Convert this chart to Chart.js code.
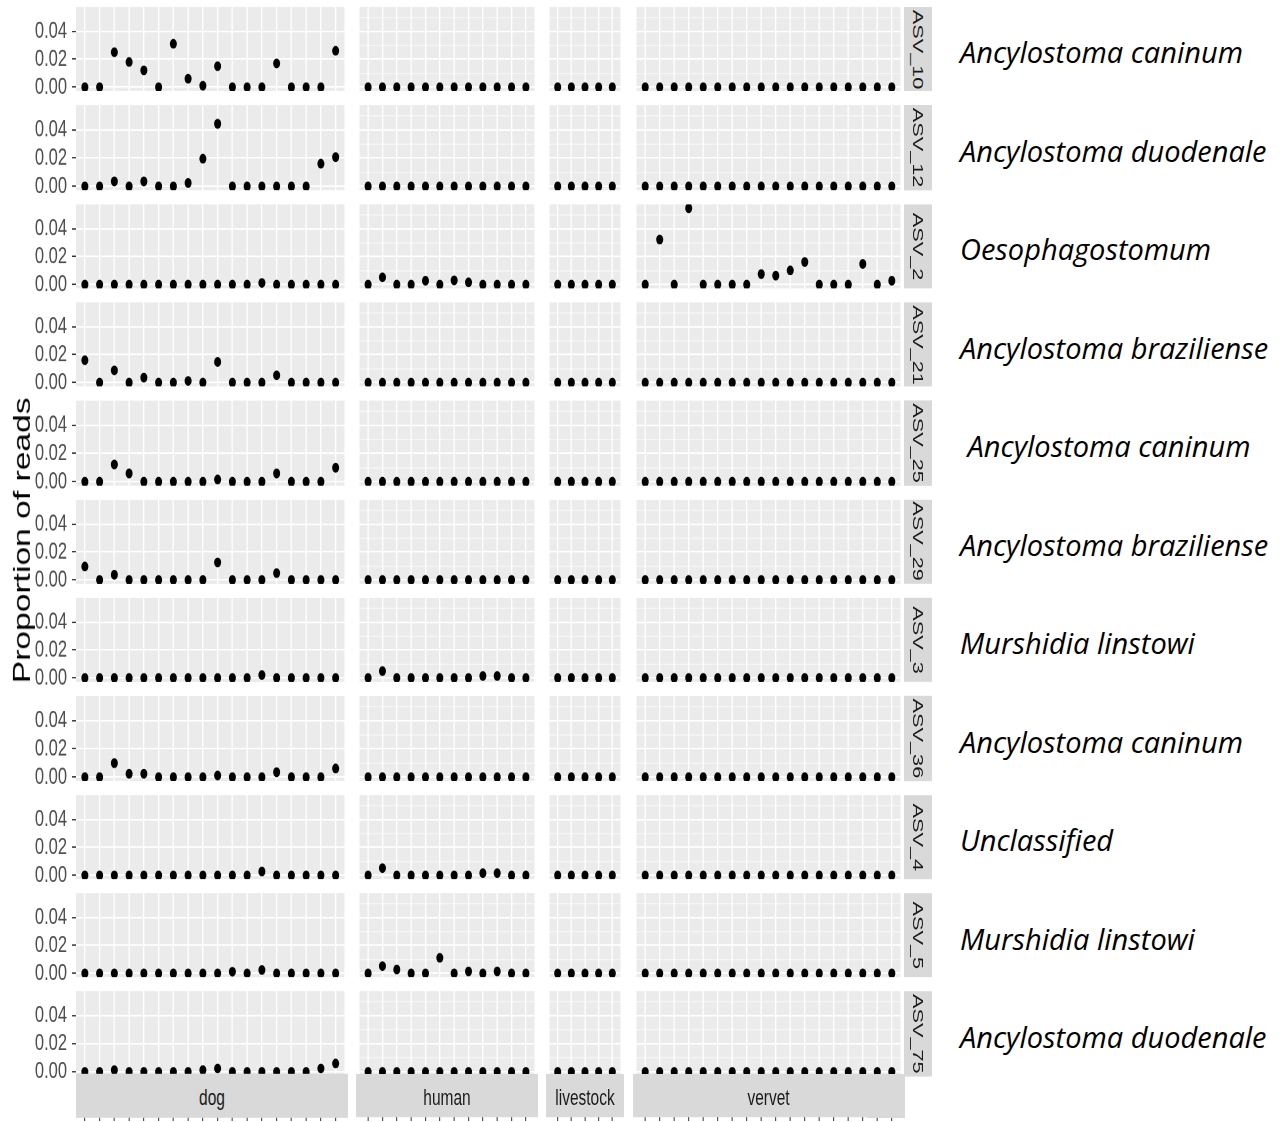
<!DOCTYPE html>
<html>
<head>
<meta charset="utf-8">
<script src="https://cdn.jsdelivr.net/npm/chart.js@4.4.1/dist/chart.umd.min.js"></script>
<style>
  body { margin: 0; background: #fff; width: 1284px; height: 1122px; overflow: hidden; }
  #page { position: relative; width: 1284px; height: 1122px; }
  /* the ggplot part of the figure is stretched vertically in the original */
  #plot { position: absolute; left: 0; top: 0; width: 940px; height: 802px; transform: scaleY(1.4); transform-origin: 0 0; }
  #plot canvas { position: absolute; }
  .strip { position: absolute; background: #d9d9d9; color: #1a1a1a; font: 15.5px 'Liberation Sans', Arial, sans-serif;
           display: flex; align-items: center; justify-content: center; z-index: 2; }
  .strip.v { writing-mode: vertical-rl; }
  .strip.h { padding-top: 3px; box-sizing: border-box; }
  #ytitle { position: absolute; left: 8px; font: 24px 'Liberation Sans', Arial, sans-serif; color: #000;
            writing-mode: vertical-rl; transform: translateY(-50%) rotate(180deg); white-space: nowrap; }
  .species { position: absolute; left: 960px; font: italic 29px 'Open Sans', sans-serif; color: #000;
             white-space: pre; transform: translateY(-50%); }
</style>
</head>
<body>
<div id="page">
  <div id="plot"></div>
</div>
<script>
// facets
const asvs = ['ASV_10', 'ASV_12', 'ASV_2', 'ASV_21', 'ASV_25', 'ASV_29', 'ASV_3', 'ASV_36', 'ASV_4', 'ASV_5', 'ASV_75'];
const hosts = ['dog', 'human', 'livestock', 'vervet'];
const species = ['Ancylostoma caninum', 'Ancylostoma duodenale', 'Oesophagostomum', 'Ancylostoma braziliense',
  ' Ancylostoma caninum', 'Ancylostoma braziliense', 'Murshidia linstowi', 'Ancylostoma caninum',
  'Unclassified', 'Murshidia linstowi', 'Ancylostoma duodenale'];
const yTickLabels = ['0.00', '0.02', '0.04'];

// proportion of reads, one row per ASV
const dog = [
  [0, 0, 0.025, 0.018, 0.012, 0, 0.031, 0.006, 0.001, 0.015, 0, 0, 0, 0.017, 0, 0, 0, 0.026],
  [0, 0, 0.0035, 0, 0.0035, 0, 0, 0.0024, 0.0195, 0.0442, 0, 0, 0, 0, 0, 0, 0.016, 0.0207],
  [0, 0, 0, 0, 0, 0, 0, 0, 0, 0, 0, 0, 0.0012, 0, 0, 0, 0, 0],
  [0.016, 0, 0.0087, 0, 0.0035, 0, 0, 0.0012, 0, 0.0148, 0, 0, 0, 0.0052, 0, 0, 0, 0],
  [0, 0, 0.0122, 0.0059, 0, 0, 0, 0, 0, 0.0016, 0, 0, 0, 0.0059, 0, 0, 0, 0.0099],
  [0.0096, 0, 0.0038, 0, 0, 0, 0, 0, 0, 0.0125, 0, 0, 0, 0.0049, 0, 0, 0, 0],
  [0, 0, 0, 0, 0, 0, 0, 0, 0, 0, 0, 0, 0.0021, 0, 0, 0, 0, 0],
  [0, 0, 0.0099, 0.0024, 0.0024, 0, 0, 0, 0, 0.0012, 0, 0, 0, 0.0035, 0, 0, 0, 0.0061],
  [0, 0, 0, 0, 0, 0, 0, 0, 0, 0, 0, 0, 0.0028, 0, 0, 0, 0, 0],
  [0, 0, 0, 0, 0, 0, 0, 0, 0, 0, 0.0012, 0, 0.0024, 0, 0, 0, 0, 0],
  [0, 0, 0.0012, 0, 0, 0, 0, 0, 0.0012, 0.0024, 0, 0, 0, 0, 0, 0, 0.0024, 0.0059]
];
const human = [
  [0, 0, 0, 0, 0, 0, 0, 0, 0, 0, 0, 0],
  [0, 0, 0, 0, 0, 0, 0, 0, 0, 0, 0, 0],
  [0, 0.0052, 0, 0, 0.0028, 0, 0.003, 0.0016, 0, 0, 0, 0],
  [0, 0, 0, 0, 0, 0, 0, 0, 0, 0, 0, 0],
  [0, 0, 0, 0, 0, 0, 0, 0, 0, 0, 0, 0],
  [0, 0, 0, 0, 0, 0, 0, 0, 0, 0, 0, 0],
  [0, 0.0049, 0, 0, 0, 0, 0, 0, 0.0014, 0.0014, 0, 0],
  [0, 0, 0, 0, 0, 0, 0, 0, 0, 0, 0, 0],
  [0, 0.0052, 0, 0, 0, 0, 0, 0, 0.0016, 0.0016, 0, 0],
  [0, 0.0052, 0.0028, 0, 0, 0.0111, 0, 0.0014, 0, 0.0014, 0, 0],
  [0, 0, 0, 0, 0, 0, 0, 0, 0, 0, 0, 0]
];
const livestock = [
  [0, 0, 0, 0, 0], [0, 0, 0, 0, 0], [0, 0, 0, 0, 0], [0, 0, 0, 0, 0],
  [0, 0, 0, 0, 0], [0, 0, 0, 0, 0], [0, 0, 0, 0, 0], [0, 0, 0, 0, 0],
  [0, 0, 0, 0, 0], [0, 0, 0, 0, 0], [0, 0, 0, 0, 0]
];
const vervet = [
  [0, 0, 0, 0, 0, 0, 0, 0, 0, 0, 0, 0, 0, 0, 0, 0, 0, 0],
  [0, 0, 0, 0, 0, 0, 0, 0, 0, 0, 0, 0, 0, 0, 0, 0, 0, 0],
  [0, 0.0322, 0, 0.0546, 0, 0, 0, 0, 0.0075, 0.0064, 0.0101, 0.0162, 0, 0, 0, 0.0148, 0, 0.0028],
  [0, 0, 0, 0, 0, 0, 0, 0, 0, 0, 0, 0, 0, 0, 0, 0, 0, 0],
  [0, 0, 0, 0, 0, 0, 0, 0, 0, 0, 0, 0, 0, 0, 0, 0, 0, 0],
  [0, 0, 0, 0, 0, 0, 0, 0, 0, 0, 0, 0, 0, 0, 0, 0, 0, 0],
  [0, 0, 0, 0, 0, 0, 0, 0, 0, 0, 0, 0, 0, 0, 0, 0, 0, 0],
  [0, 0, 0, 0, 0, 0, 0, 0, 0, 0, 0, 0, 0, 0, 0, 0, 0, 0],
  [0, 0, 0, 0, 0, 0, 0, 0, 0, 0, 0, 0, 0, 0, 0, 0, 0, 0],
  [0, 0, 0, 0, 0, 0, 0, 0, 0, 0, 0, 0, 0, 0, 0, 0, 0, 0],
  [0, 0, 0, 0, 0, 0, 0, 0, 0, 0, 0, 0, 0, 0, 0, 0, 0, 0]
];
const groups = [dog, human, livestock, vervet];

// layout (page pixels; vertical values get divided by S inside #plot)
const S = 1.4;
const colLeft = [76, 356, 546, 633];
const colRight = [348, 538, 624, 904];
const rowTop0 = 6.9, rowPitch = 98.48, panelH = 84.6;
const pad = 8;

// ggplot-like expansion of the shared y range
const allVals = groups.flat(2);
const yMaxData = Math.max(...allVals);
const yMin = -0.05 * yMaxData, yMax = yMaxData * 1.05;

const plot = document.getElementById('plot');
const isMajor = v => Math.round(v * 100) % 2 === 0;

const panelBg = {
  id: 'panelBg',
  beforeDraw(chart) {
    const a = chart.chartArea, ctx = chart.ctx;
    ctx.save();
    ctx.fillStyle = '#ebebeb';
    ctx.fillRect(a.left, a.top, a.right - a.left, a.bottom - a.top);
    ctx.restore();
  }
};

const lastRow = asvs.length - 1;
const bottomOuter = rowTop0 + lastRow * rowPitch + panelH;
const axisH = (1122 - bottomOuter) / S;

asvs.forEach((asv, r) => {
  const top = (rowTop0 + r * rowPitch) / S;
  const h = panelH / S;
  const last = r === lastRow;

  hosts.forEach((host, c) => {
    const vals = groups[c][r];
    const n = vals.length;
    const left = c === 0 ? 0 : colLeft[c];
    const w = colRight[c] - left;
    const ch = h + pad + (last ? axisH : pad);

    const cv = document.createElement('canvas');
    cv.width = w; cv.height = ch;
    cv.style.left = left + 'px';
    cv.style.top = (top - pad) + 'px';
    cv.style.width = w + 'px';
    cv.style.height = ch + 'px';
    plot.appendChild(cv);

    new Chart(cv, {
      type: 'scatter',
      data: {
        datasets: [{
          data: vals.map((v, i) => ({ x: i, y: v })),
          backgroundColor: '#000',
          borderColor: '#000',
          borderWidth: 0,
          pointRadius: 3.5,
          pointHoverRadius: 3.5
        }]
      },
      options: {
        responsive: false,
        animation: false,
        devicePixelRatio: 2,
        events: [],
        layout: { padding: { top: pad, bottom: last ? 0 : pad, left: 0, right: 0 } },
        plugins: { legend: { display: false }, tooltip: { enabled: false } },
        scales: {
          x: {
            type: 'linear',
            min: -0.6,
            max: n - 1 + 0.6,
            border: { display: false },
            ticks: { stepSize: 1, includeBounds: false, display: false },
            grid: { color: '#ffffff', lineWidth: 1.3, drawTicks: last, tickLength: axisH, tickColor: '#333333', tickWidth: 1 },
            afterFit: s => { s.height = last ? axisH : 0; }
          },
          y: {
            min: yMin,
            max: yMax,
            border: { display: false },
            ticks: {
              stepSize: 0.01,
              includeBounds: false,
              display: c === 0,
              padding: 5,
              color: '#4d4d4d',
              font: { family: "'Liberation Sans', Arial, sans-serif", size: 16.5 },
              callback: v => isMajor(v) ? yTickLabels[Math.round(v * 50)] : ''
            },
            grid: {
              color: '#ffffff',
              lineWidth: ctx => isMajor(ctx.tick.value) ? 1.1 : 0.55,
              drawTicks: c === 0,
              tickLength: 4,
              tickWidth: 1,
              tickColor: ctx => isMajor(ctx.tick.value) ? '#333333' : 'rgba(0,0,0,0)'
            },
            afterFit: s => { s.width = c === 0 ? colLeft[0] : 0; s.paddingTop = 0; s.paddingBottom = 0; }
          }
        }
      },
      plugins: [panelBg]
    });
  });

  // facet strip on the right
  const st = document.createElement('div');
  st.className = 'strip v';
  st.style.left = colRight[3] + 'px';
  st.style.top = top + 'px';
  st.style.width = '28px';
  st.style.height = h + 'px';
  st.textContent = asv;
  plot.appendChild(st);

  // species label
  const sp = document.createElement('div');
  sp.className = 'species';
  sp.style.top = (rowTop0 + r * rowPitch + panelH / 2 + 2) + 'px';
  sp.textContent = species[r];
  document.getElementById('page').appendChild(sp);
});

// host strips below the last row
hosts.forEach((host, c) => {
  const st = document.createElement('div');
  st.className = 'strip h';
  st.style.left = colLeft[c] + 'px';
  st.style.width = (colRight[c] - colLeft[c]) + 'px';
  st.style.top = (1074 / S) + 'px';
  st.style.height = (43 / S) + 'px';
  st.textContent = host;
  plot.appendChild(st);
});

// y axis title
const yt = document.createElement('div');
yt.id = 'ytitle';
yt.style.top = (541 / S) + 'px';
yt.textContent = 'Proportion of reads';
plot.appendChild(yt);
</script>
</body>
</html>
